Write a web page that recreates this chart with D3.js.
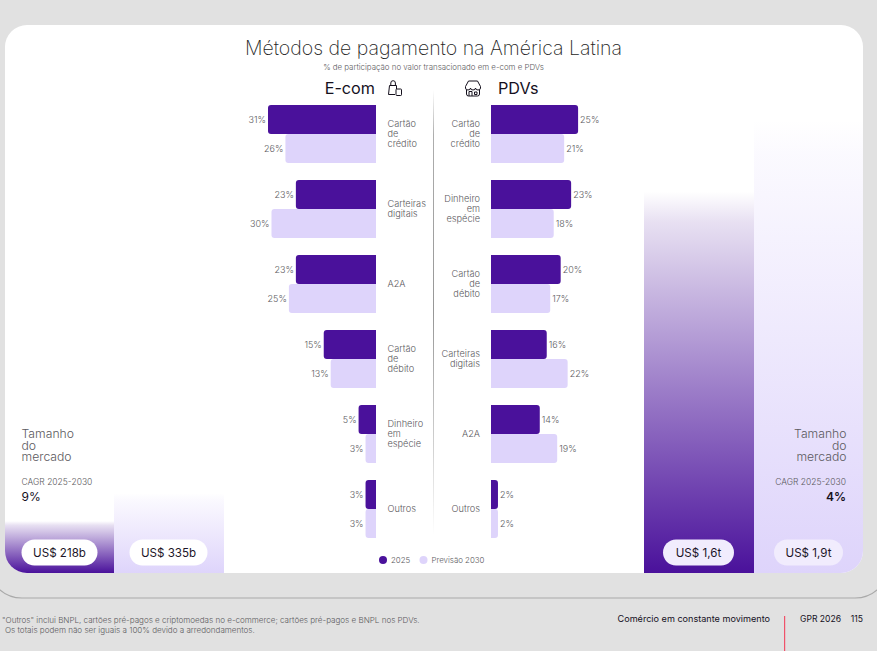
<!DOCTYPE html>
<html>
<head>
<meta charset="utf-8">
<script src="https://cdnjs.cloudflare.com/ajax/libs/d3/7.8.5/d3.min.js"></script>
<style>
  html, body { margin: 0; padding: 0; background: #e1e1e1; overflow: hidden; }
  text { font-family: "Inter", sans-serif; font-weight: 300; fill: #5c5a60; }
</style>
</head>
<body>
<svg id="chart" width="877" height="651"></svg>
<script>
// Data
const ecomCategories = ["Cartão\nde\ncrédito", "Carteiras\ndigitais", "A2A", "Cartão\nde\ndébito", "Dinheiro\nem\nespécie", "Outros"];
const ecom2025 = [31, 23, 23, 15, 5, 3];
const ecom2030 = [26, 30, 25, 13, 3, 3];

const pdvCategories = ["Cartão\nde\ncrédito", "Dinheiro\nem\nespécie", "Cartão\nde\ndébito", "Carteiras\ndigitais", "A2A", "Outros"];
const pdv2025 = [25, 23, 20, 16, 14, 2];
const pdv2030 = [21, 18, 17, 22, 19, 2];

const marketLabels = ["US$ 218b", "US$ 335b", "US$ 1,6t", "US$ 1,9t"];
const marketValues = [218, 335, 1600, 1900]; // US$ bilhões

const seriesNames = ["2025", "Previsão 2030"];
const dark = "#4a119b", light = "#ded4fb";

const svg = d3.select("#chart");
const defs = svg.append("defs");

// outer page frame
svg.append("rect").attr("x", -12).attr("y", -60).attr("width", 901).attr("height", 658)
    .attr("rx", 34).attr("fill", "none").attr("stroke", "#a9a9a9").attr("stroke-width", 1.2);

// white card, everything else is clipped to it
defs.append("clipPath").attr("id", "card").append("rect")
    .attr("x", 5).attr("y", 25).attr("width", 858).attr("height", 548).attr("rx", 22);
svg.append("rect").attr("x", 5).attr("y", 25).attr("width", 858).attr("height", 548).attr("rx", 22).attr("fill", "#fff");

// market size columns
const columnLeft = [5, 114, 644, 754];
const columnWidth = [109, 110, 110, 109];
const marketY = d3.scaleLinear().domain([0, 1900]).range([573, 120]);
const colColors = [dark, light, dark, light];

marketValues.forEach((v, i) => {
    const g = defs.append("linearGradient").attr("id", "col" + i).attr("x1", 0).attr("y1", 0).attr("x2", 0).attr("y2", 1);
    g.append("stop").attr("offset", 0).attr("stop-color", colColors[i]).attr("stop-opacity", 0);
    g.append("stop").attr("offset", 0.08).attr("stop-color", colColors[i]).attr("stop-opacity", 0.13);
    g.append("stop").attr("offset", 1).attr("stop-color", colColors[i]).attr("stop-opacity", 1);
});

svg.append("g").attr("clip-path", "url(#card)")
    .selectAll("rect").data(marketValues).enter().append("rect")
    .attr("x", (d, i) => columnLeft[i])
    .attr("width", (d, i) => columnWidth[i])
    .attr("y", d => marketY(d))
    .attr("height", d => 573 - marketY(d))
    .attr("fill", (d, i) => `url(#col${i})`);

// pills on the columns
const pillCenter = [59.5, 168.5, 698.5, 808.5];
const pillWidth = [76, 78, 71, 69];
marketLabels.forEach((t, i) => {
    svg.append("rect").attr("x", pillCenter[i] - pillWidth[i] / 2).attr("y", 539.5).attr("width", pillWidth[i]).attr("height", 26)
        .attr("rx", 13).attr("fill", i < 2 ? "#fff" : "#f1ecfd");
    svg.append("text").attr("x", pillCenter[i]).attr("y", 556.5).attr("text-anchor", "middle")
        .attr("font-size", 11.6).style("font-weight", 400).style("fill", "#1c1528").text(t);
});

// titles
svg.append("text").attr("x", 433.5).attr("y", 54.5).attr("text-anchor", "middle").attr("font-size", 19.5).style("font-weight", 250).style("fill", "#1e1e24").text("Métodos de pagamento na América Latina");
svg.append("text").attr("x", 433.5).attr("y", 70).attr("text-anchor", "middle").attr("font-size", 7.9).text("% de participação no valor transacionado em e-com e PDVs");
svg.append("text").attr("x", 375).attr("y", 94).attr("text-anchor", "end").attr("font-size", 16.2).style("font-weight", 400).style("fill", "#15101d").text("E-com");
svg.append("text").attr("x", 498).attr("y", 94).attr("font-size", 16.2).style("font-weight", 400).style("fill", "#15101d").text("PDVs");

// scales
const rowStep = 75, barH = 29;
const yRow = d3.scaleBand().domain(d3.range(6)).range([105, 105 + rowStep * 6]);
const xLen = d3.scaleLinear().domain([0, 31]).range([0, 108]);

function barPath(x0, len, y, h, dir) {
    // bar with rounded outer corners only
    const r = Math.min(3, len);
    const xe = x0 + dir * len;
    return `M${x0},${y}H${xe - dir * r}Q${xe},${y} ${xe},${y + r}V${y + h - r}Q${xe},${y + h} ${xe - dir * r},${y + h}H${x0}Z`;
}

function drawSide(cats, v25, v30, x0, dir, labelX, labelAnchor) {
    const g = svg.append("g");
    [v30, v25].forEach(vals => {
        const first = vals === v25;
        g.selectAll(null).data(vals).enter().append("path")
            .attr("fill", first ? dark : light)
            .attr("d", (d, i) => barPath(x0, xLen(d), yRow(i) + (first ? 0 : barH), barH, dir));
        g.selectAll(null).data(vals).enter().append("text")
            .attr("x", d => x0 + dir * (xLen(d) + 2))
            .attr("y", (d, i) => yRow(i) + (first ? 0 : barH) + barH / 2 + 0.5)
            .attr("dy", "0.35em")
            .attr("text-anchor", dir < 0 ? "end" : "start")
            .attr("font-size", 9)
            .text(d => d + "%");
    });
    cats.forEach((c, i) => {
        const lines = c.split("\n");
        const t = g.append("text").attr("text-anchor", labelAnchor).attr("font-size", 9.2);
        const top = yRow(i) + barH - (lines.length - 1) * 4.8;
        lines.forEach((l, k) => {
            t.append("tspan").attr("x", labelX).attr("y", top + k * (lines.length === 2 ? 9.5 : 9.8) + 3).text(l);
        });
    });
}

drawSide(ecomCategories, ecom2025, ecom2030, 376, -1, 387.5, "start");
drawSide(pdvCategories, pdv2025, pdv2030, 491, 1, 480, "end");

// divider between the two panels
const fade = defs.append("linearGradient").attr("id", "divider").attr("x1", 0).attr("y1", 0).attr("x2", 0).attr("y2", 1);
[[0, 0], [0.1, 0.7], [0.5, 0.9], [0.8, 0.4], [1, 0]].forEach(s => fade.append("stop").attr("offset", s[0]).attr("stop-color", "#8b8b8b").attr("stop-opacity", s[1]));
svg.append("rect").attr("x", 433).attr("y", 90).attr("width", 1).attr("height", 445).attr("fill", "url(#divider)");

// icons
const bag = svg.append("g").attr("fill", "none").attr("stroke", "#15101d").attr("stroke-width", 1);
bag.append("path").attr("d", "M389.5,85.5H396.5V89M389.5,85.5L388.5,94.5H395M390.8,85.5V83a2.3,2.3 0 0 1 4.6,0V85.5");
bag.append("rect").attr("x", 396).attr("y", 89).attr("width", 5.5).attr("height", 6.5).attr("rx", 0.8);
const store = svg.append("g").attr("fill", "none").attr("stroke", "#15101d").attr("stroke-width", 1);
store.append("path").attr("d", "M468.5,81H477.5L480.5,86.5V88a2.5,2 0 0 1 -5,0a2.5,2 0 0 1 -5,0a2.5,2 0 0 1 -5,0V86.5ZM466.5,90V94a2,2 0 0 0 2,2H477.5a2,2 0 0 0 2,-2V90M469,96V91.5H472V96M474.5,92H477V94.5H474.5Z");

// market size texts
const sizeLines = ["Tamanho", "do", "mercado"];
[[21.5, "start"], [846.5, "end"]].forEach(p => {
    const t = svg.append("text").attr("text-anchor", p[1]).attr("font-size", 12.2);
    sizeLines.forEach((l, i) => t.append("tspan").attr("x", p[0]).attr("y", 438 + i * 11.7).text(l));
});
svg.append("text").attr("x", 21.5).attr("y", 485).attr("font-size", 8.5).text("CAGR 2025-2030");
svg.append("text").attr("x", 846).attr("y", 485).attr("text-anchor", "end").attr("font-size", 8.5).text("CAGR 2025-2030");
svg.append("text").attr("x", 21.5).attr("y", 501).attr("font-size", 12).style("font-weight", 400).style("fill", "#15101d").text("9%");
svg.append("text").attr("x", 846).attr("y", 501).attr("text-anchor", "end").attr("font-size", 12).style("font-weight", 600).style("fill", "#15101d").text("4%");

// legend
const legendX = [383, 423.5];
seriesNames.forEach((n, i) => {
    svg.append("circle").attr("cx", legendX[i]).attr("cy", 560).attr("r", 4).attr("fill", i ? light : dark);
    svg.append("text").attr("x", legendX[i] + 8).attr("y", 563).attr("font-size", 7.9).text(n);
});

// footer
svg.append("text").attr("x", 2).attr("y", 623).attr("font-size", 8.05).text("\"Outros\" inclui BNPL, cartões pré-pagos e criptomoedas no e-commerce; cartões pré-pagos e BNPL nos PDVs.");
svg.append("text").attr("x", 5).attr("y", 633).attr("font-size", 8.05).text("Os totais podem não ser iguais a 100% devido a arredondamentos.");
svg.append("text").attr("x", 770).attr("y", 622).attr("text-anchor", "end").attr("font-size", 9.1).style("font-weight", 400).style("fill", "#15101d").text("Comércio em constante movimento");
svg.append("rect").attr("x", 784).attr("y", 616).attr("width", 1.2).attr("height", 35).attr("fill", "#f0526a");
svg.append("text").attr("x", 800).attr("y", 622).attr("font-size", 8.6).style("font-weight", 400).style("fill", "#15101d").text("GPR 2026");
svg.append("text").attr("x", 863).attr("y", 622).attr("text-anchor", "end").attr("font-size", 8.6).style("font-weight", 400).style("fill", "#15101d").text("115");
</script>
</body>
</html>
